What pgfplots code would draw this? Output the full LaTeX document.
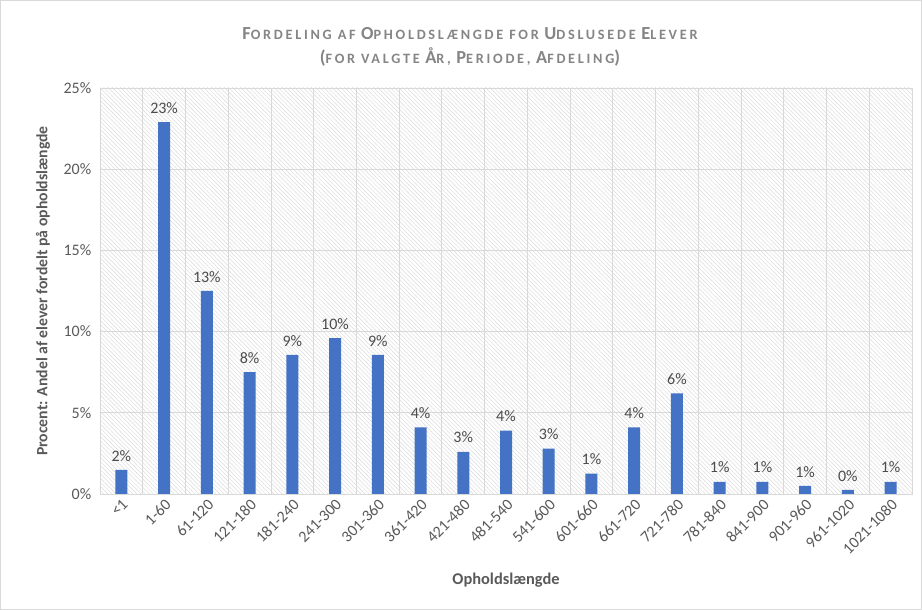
\documentclass[border=0pt]{standalone}
\usepackage{fontspec}
\setmainfont{Carlito}
\newfontfamily\titlefont[LetterSpace=19]{Carlito}
\usepackage{pgfplots}
\pgfplotsset{compat=1.18}
\usetikzlibrary{patterns.meta}
\definecolor{barblue}{HTML}{4472C4}
\definecolor{txtgray}{HTML}{595959}
\definecolor{titlegray}{HTML}{858585}
\definecolor{gridgray}{HTML}{D9D9D9}
\newcommand{\bigc}[1]{{\fontsize{13.8}{15}\selectfont #1}}
\newcommand{\smc}[1]{{\fontsize{10.7}{15}\selectfont #1}}
\begin{document}
\begin{tikzpicture}
\useasboundingbox (-75pt,-87pt) rectangle (616.5pt,370.5pt);
\draw[gridgray] (-74.5pt,-86.5pt) rectangle (616pt,370pt);
\begin{axis}[
  scale only axis,
  width=609pt, height=304.5pt,
  xmin=-0.5, xmax=18.5,
  ymin=0, ymax=25,
  ytick={0,5,10,15,20,25},
  yticklabel={\pgfmathprintnumber{\tick}\%},
  xtick={0,...,18},
  xticklabels={{<1},{1-60},{61-120},{121-180},{181-240},{241-300},{301-360},{361-420},{421-480},{481-540},{541-600},{601-660},{661-720},{721-780},{781-840},{841-900},{901-960},{961-1020},{1021-1080}},
  minor xtick={-0.5,0.5,...,18.5},
  xminorgrids, ymajorgrids,
  minor grid style={gridgray, line width=0.6pt},
  major grid style={gridgray, line width=0.6pt},
  axis line style={gridgray, line width=0.6pt},
  major tick length=0pt, minor tick length=0pt,
  tick style={draw=none},
  /pgf/number format/assume math mode=true,
  ticklabel style={font=\fontsize{12}{14}\selectfont, text=txtgray},
  x tick label style={rotate=45, anchor=north east, inner sep=2pt},
  y tick label style={xshift=-3pt},
  axis background/.style={pattern={Lines[angle=135,distance=2.2pt,line width=0.35pt]}, pattern color=gray!30},
  xlabel={\textbf{Opholdslængde}},
  xlabel style={font=\fontsize{12.3}{14}\selectfont, text=txtgray, at={(axis description cs:0.5,0)}, yshift=-56pt},
  ylabel={\textbf{Procent: Andel af elever fordelt på opholdslængde}},
  ylabel style={font=\fontsize{11.8}{14}\selectfont, text=txtgray, at={(axis description cs:0,0.5)}, yshift=34pt},
  nodes near coords,
  point meta=explicit symbolic,
  nodes near coords style={font=\fontsize{12}{14}\selectfont, text=txtgray!85!black, anchor=south, yshift=3pt},
]
\addplot[ybar, bar width=9pt, fill=barblue, draw=none] table[meta=lab] {
x y lab
0 1.48 2\%
1 22.9 23\%
2 12.5 13\%
3 7.5 8\%
4 8.56 9\%
5 9.6 10\%
6 8.56 9\%
7 4.1 4\%
8 2.6 3\%
9 3.9 4\%
10 2.8 3\%
11 1.25 1\%
12 4.1 4\%
13 6.2 6\%
14 0.75 1\%
15 0.75 1\%
16 0.5 1\%
17 0.25 0\%
18 0.75 1\%
};
\end{axis}
\node[font=\titlefont\bfseries, text=titlegray] at (277.5pt,345.5pt) {\bigc{F}\smc{ORDELING AF} \bigc{O}\smc{PHOLDSLÆNGDE FOR} \bigc{U}\smc{DSLUSEDE} \bigc{E}\smc{LEVER}};
\node[font=\titlefont\bfseries, text=titlegray] at (277.5pt,327.5pt) {\bigc{(}\smc{FOR VALGTE} \bigc{Å}\smc{R,} \bigc{P}\smc{ERIODE,} \bigc{A}\smc{FDELING}\bigc{)}};
\end{tikzpicture}
\end{document}
